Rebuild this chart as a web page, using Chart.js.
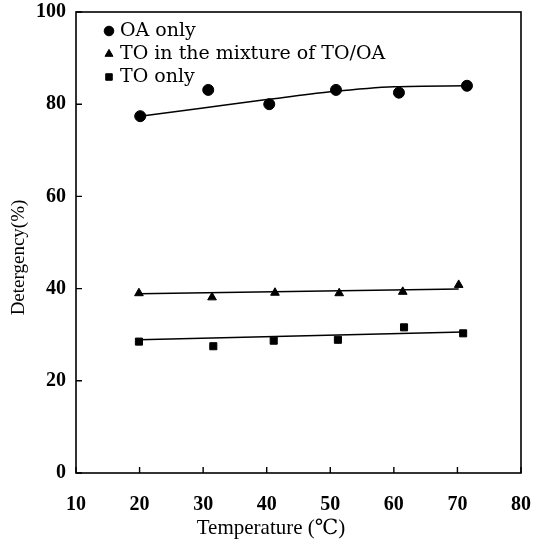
<!DOCTYPE html>
<html>
<head>
<meta charset="utf-8">
<script src="https://cdn.jsdelivr.net/npm/chart.js@4.4.0/dist/chart.umd.min.js"></script>
<style>
html,body{margin:0;padding:0;background:#fff;}
#wrap{width:543px;height:549px;}
</style>
</head>
<body>
<div id="wrap"><canvas id="c" width="543" height="549"></canvas></div>
<script>
// ---- data ----
const xTicks = [10, 20, 30, 40, 50, 60, 70, 80];
const yTicks = [0, 20, 40, 60, 80, 100];

const oaX = [20.1, 30.8, 40.4, 50.9, 60.8, 71.5];
const oaY = [77.4, 83.1, 80.0, 83.1, 82.5, 84.0];

const mixX = [19.9, 31.4, 41.3, 51.4, 61.4, 70.2];
const mixY = [39.0, 38.1, 39.1, 39.0, 39.3, 40.8];

const toX = [19.9, 31.6, 41.1, 51.2, 61.6, 70.9];
const toY = [28.5, 27.5, 28.7, 28.9, 31.6, 30.3];

// fitted lines drawn in the figure
const oaFitX = [20.1, 30, 40, 50, 60, 71.5];
const oaFitY = [77.4, 79.2, 81.0, 82.7, 83.8, 84.0];
const mixFitX = [19.9, 70.2];
const mixFitY = [38.9, 39.9];
const toFitX = [19.9, 70.9];
const toFitY = [28.9, 30.6];

const labels = ['OA only', 'TO in the mixture of TO/OA', 'TO only'];
const yTitle = 'Detergency(%)';
const xTitle = 'Temperature (℃)';

const pts = (xs, ys) => xs.map((x, i) => ({x: x, y: ys[i]}));

const SERIF = '"Liberation Serif", "DejaVu Serif", serif';
const CENTURY = '"DejaVu Serif", "Liberation Serif", serif';

const framePlugin = {
  id: 'frame',
  afterDraw(chart) {
    const {ctx, chartArea: a, scales} = chart;
    ctx.save();
    ctx.strokeStyle = '#000';
    ctx.lineWidth = 1.6;
    ctx.strokeRect(a.left, a.top, a.right - a.left, a.bottom - a.top);
    ctx.lineWidth = 1.4;
    ctx.beginPath();
    xTicks.forEach(v => {
      const px = scales.x.getPixelForValue(v);
      ctx.moveTo(px, a.bottom);
      ctx.lineTo(px, a.bottom - 6);
    });
    yTicks.forEach(v => {
      const py = scales.y.getPixelForValue(v);
      ctx.moveTo(a.left, py);
      ctx.lineTo(a.left + 6, py);
    });
    ctx.stroke();

    ctx.fillStyle = '#000';
    ctx.textAlign = 'center';
    ctx.textBaseline = 'middle';
    // x axis title
    ctx.font = '21px ' + SERIF;
    ctx.fillText(xTitle, 271, 528);
    // y axis title
    ctx.font = '19px ' + SERIF;
    ctx.translate(19, (a.top + a.bottom) / 2 + 15);
    ctx.rotate(-Math.PI / 2);
    ctx.fillText(yTitle, 0, 0);
    ctx.restore();

    // legend
    ctx.save();
    const styles = ['circle', 'triangle', 'rect'];
    const radii = [4.8, 4.6, 4.6];
    ctx.fillStyle = '#000';
    ctx.strokeStyle = '#000';
    ctx.font = '19px ' + CENTURY;
    ctx.textAlign = 'left';
    ctx.textBaseline = 'middle';
    labels.forEach((t, i) => {
      const yy = a.top + 19 + i * 23;
      Chart.helpers.drawPoint(ctx, {pointStyle: styles[i], radius: radii[i], rotation: 0, borderWidth: 1}, a.left + 33, yy);
      ctx.fillStyle = '#000';
      ctx.fillText(t, a.left + 44, yy);
    });
    ctx.restore();
  }
};

new Chart(document.getElementById('c'), {
  type: 'scatter',
  data: {
    datasets: [
      {label: labels[0], data: pts(oaX, oaY), pointStyle: 'circle', pointRadius: 5.5,
       backgroundColor: '#000', borderColor: '#000', showLine: false},
      {label: labels[1], data: pts(mixX, mixY), pointStyle: 'triangle', pointRadius: 5,
       backgroundColor: '#000', borderColor: '#000', showLine: false},
      {label: labels[2], data: pts(toX, toY), pointStyle: 'rect', pointRadius: 5,
       backgroundColor: '#000', borderColor: '#000', showLine: false},
      {label: 'fit1', data: pts(oaFitX, oaFitY), showLine: true, pointRadius: 0,
       borderColor: '#000', borderWidth: 1.5, cubicInterpolationMode: 'monotone', fill: false},
      {label: 'fit2', data: pts(mixFitX, mixFitY), showLine: true, pointRadius: 0,
       borderColor: '#000', borderWidth: 1.5, fill: false},
      {label: 'fit3', data: pts(toFitX, toFitY), showLine: true, pointRadius: 0,
       borderColor: '#000', borderWidth: 1.5, fill: false}
    ]
  },
  options: {
    responsive: false,
    animation: false,
    devicePixelRatio: 1,
    layout: {padding: {top: 12, right: 22, left: 0, bottom: 0}},
    plugins: {
      tooltip: {enabled: false},
      legend: {display: false}
    },
    scales: {
      x: {
        type: 'linear',
        min: 10, max: 80,
        afterBuildTicks: (s) => { s.ticks = xTicks.map(v => ({value: v})); },
        afterFit: (s) => { s.height = 76; s.paddingLeft = 0; s.paddingRight = 0; },
        grid: {display: false, drawTicks: false},
        border: {display: false},
        ticks: {color: '#000', padding: 20, maxRotation: 0, font: {family: SERIF, size: 20, weight: 'bold'}},
        title: {display: false}
      },
      y: {
        type: 'linear',
        min: 0, max: 100,
        afterBuildTicks: (s) => { s.ticks = yTicks.map(v => ({value: v})); },
        afterFit: (s) => { s.width = 76; s.paddingTop = 0; s.paddingBottom = 0; },
        grid: {display: false, drawTicks: false},
        border: {display: false},
        ticks: {color: '#000', padding: 10, font: {family: SERIF, size: 20, weight: 'bold'}},
        title: {display: false}
      }
    }
  },
  plugins: [framePlugin]
});
</script>
</body>
</html>
